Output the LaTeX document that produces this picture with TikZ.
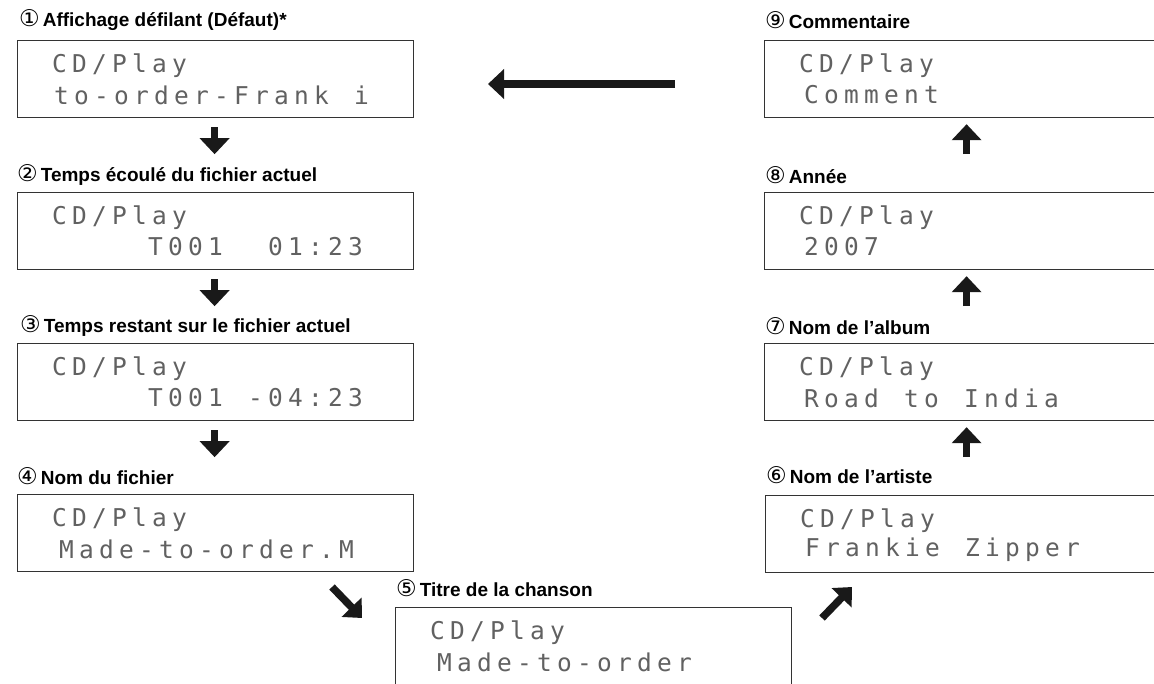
\documentclass[tikz,border=0pt]{standalone}
\usepackage{fontspec}
\setmainfont{Liberation Sans}
\newfontfamily\lcdfont{DejaVu Sans Mono}
\newfontfamily\numfont{DejaVu Sans}
\usetikzlibrary{arrows.meta,calc}

% one character cell of the dot-matrix display per token (use ~ for a blank)
\newcommand\lcdrun[1]{\lcdnext#1\relax}
\def\lcdnext#1{\ifx#1\relax\else\makebox[20pt][l]{#1}\expandafter\lcdnext\fi}

\tikzset{
  lcdbox/.style={draw=black!80, line width=1.2pt, minimum width=396pt,
    minimum height=77pt, anchor=north west, inner sep=0pt},
  lcdtext/.style={anchor=west, inner sep=0pt, text=black!62,
    font=\lcdfont\fontsize{24.5pt}{24.5pt}\selectfont},
  lbl/.style={anchor=west, inner sep=0pt,
    font=\bfseries\fontsize{19pt}{19pt}\selectfont},
  blockarrow/.style={line width=7pt, draw=black!90,
    -{Triangle[width=29pt,length=16pt]}},
  diagarrow/.style={line width=7.5pt, draw=black!90,
    -{Triangle[width=27pt,length=15pt]}}
}
\newcommand\cnum[1]{{\numfont\mdseries\fontsize{23pt}{23pt}\selectfont#1}\hspace{3pt}}

\begin{document}
\begin{tikzpicture}[x=1pt,y=-1pt]
\clip (0,0) rectangle (1154,683);
\fill[white] (0,0) rectangle (1154,683);

% left column
\node[lcdbox] (b1) at (17,40) {};
\node[lcdbox] (b2) at (17,192) {};
\node[lcdbox] (b3) at (17,343) {};
\node[lcdbox] (b4) at (17,494) {};
% bottom middle
\node[lcdbox, minimum height=95pt] (b5) at (395,607) {};
% right column
\node[lcdbox] (b9) at (764,40) {};
\node[lcdbox] (b8) at (764,192) {};
\node[lcdbox] (b7) at (764,343) {};
\node[lcdbox] (b6) at (765,495) {};

% headings
\node[lbl] (l1) at ($(b1.north west)+(2,-20)$) {\cnum{①}Affichage défilant (Défaut)*};
\node[lbl] (l2) at ($(b2.north west)+(0,-17)$) {\cnum{②}Temps écoulé du fichier actuel};
\node[lbl] (l3) at ($(b3.north west)+(3,-17)$) {\cnum{③}Temps restant sur le fichier actuel};
\node[lbl] (l4) at ($(b4.north west)+(0,-18)$) {\cnum{④}Nom du fichier};
\node[lbl] (l5) at ($(b5.north west)+(1,-19)$) {\cnum{⑤}Titre de la chanson};
\node[lbl] (l6) at ($(b6.north west)+(1,-20)$) {\cnum{⑥}Nom de l’artiste};
\node[lbl] (l7) at ($(b7.north west)+(1,-17)$) {\cnum{⑦}Nom de l’album};
\node[lbl] (l8) at ($(b8.north west)+(1,-17)$) {\cnum{⑧}Année};
\node[lbl] (l9) at ($(b9.north west)+(1,-20)$) {\cnum{⑨}Commentaire};

% display contents
\foreach \b in {b1,b2,b3,b4,b5,b6,b7,b8,b9}{
  \node[lcdtext] (\b top) at ($(\b.north west)+(35,26)$) {\lcdrun{CD/Play}};
}
\node[lcdtext] (t1) at ($(b1.north west)+(37,55)$) {\lcdrun{to-order-Frank~i}};
\node[lcdtext] (t2) at ($(b2.north west)+(131,55)$) {\lcdrun{T001~~01:23}};
\node[lcdtext] (t3) at ($(b3.north west)+(131,55)$) {\lcdrun{T001~-04:23}};
\node[lcdtext] (t4) at ($(b4.north west)+(42,55)$) {\lcdrun{Made-to-order.M}};
\node[lcdtext] (t5) at ($(b5.north west)+(42,55)$) {\lcdrun{Made-to-order}};
\node[lcdtext] (t6) at ($(b6.north west)+(40,55)$) {\lcdrun{Frankie~Zipper}};
\node[lcdtext] (t7) at ($(b7.north west)+(40,55)$) {\lcdrun{Road~to~India}};
\node[lcdtext] (t8) at ($(b8.north west)+(40,55)$) {\lcdrun{2007}};
\node[lcdtext] (t9) at ($(b9.north west)+(40,55)$) {\lcdrun{Comment}};

% arrow end points
\coordinate (d1s) at ($(b1.south)+(-1,9)$);  \coordinate (d1e) at ($(b1.south)+(-1,36)$);
\coordinate (d2s) at ($(b2.south)+(-1,9)$);  \coordinate (d2e) at ($(b2.south)+(-1,36)$);
\coordinate (d3s) at ($(b3.south)+(-1,9)$);  \coordinate (d3e) at ($(b3.south)+(-1,36)$);
\coordinate (u9e) at ($(b9.south)+(4,6)$);   \coordinate (u9s) at ($(b9.south)+(4,36)$);
\coordinate (u8e) at ($(b8.south)+(4,6)$);   \coordinate (u8s) at ($(b8.south)+(4,36)$);
\coordinate (u7e) at ($(b7.south)+(4,6)$);   \coordinate (u7s) at ($(b7.south)+(4,36)$);
\coordinate (ls) at (675,84);  \coordinate (le) at (488,84);
\coordinate (ds) at (332,587); \coordinate (de) at (362,618);
\coordinate (us) at (822,618); \coordinate (ue) at (852,587);

\draw[blockarrow] (d1s) -- (d1e);
\draw[blockarrow] (d2s) -- (d2e);
\draw[blockarrow] (d3s) -- (d3e);
\draw[blockarrow] (u9s) -- (u9e);
\draw[blockarrow] (u8s) -- (u8e);
\draw[blockarrow] (u7s) -- (u7e);
\draw[blockarrow, line width=8pt] (ls) -- (le);
\draw[diagarrow] (ds) -- (de);
\draw[diagarrow] (us) -- (ue);
\end{tikzpicture}
\end{document}
